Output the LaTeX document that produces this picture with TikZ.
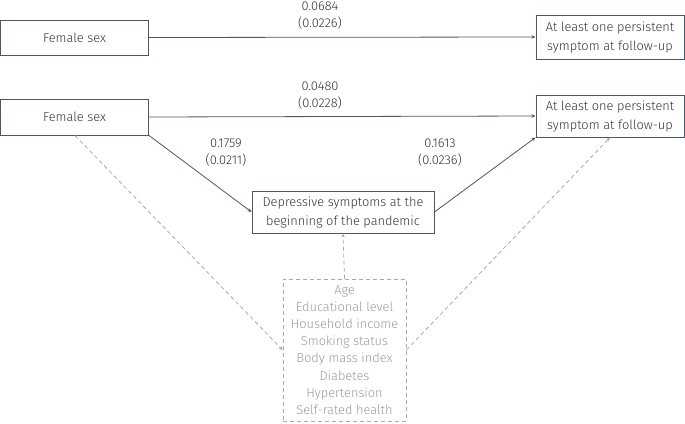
\documentclass[tikz,border=0pt]{standalone}
\usepackage{fontspec}
\setmainfont{Fira Sans}[UprightFont=* Light]
\usetikzlibrary{arrows.meta}
\definecolor{boxc}{HTML}{4A5670}
\definecolor{txt}{HTML}{333333}
\definecolor{gr}{HTML}{A8A8B0}
\definecolor{grt}{HTML}{9A9A9A}
\begin{document}
\begin{tikzpicture}[x=1pt,y=-1pt,
  every node/.style={font=\fontsize{12.8}{19}\selectfont, text=txt},
  boxn/.style={draw=boxc, line width=0.9pt, inner sep=0pt, align=center},
  lbl/.style={align=center, font=\fontsize{12.8}{17}\selectfont},
  arr/.style={draw=boxc, line width=0.8pt, -{Stealth[length=4pt,width=3.5pt]}},
  darr/.style={draw=gr, line width=0.8pt, dash pattern=on 4pt off 3pt, -{Stealth[length=4pt,width=3.5pt]}},
  cov/.style={draw=gr, line width=0.8pt, dash pattern=on 4pt off 3pt, inner sep=0pt, align=center, text=grt, font=\fontsize{12.8}{17.2}\selectfont}
]
\useasboundingbox (0,0) rectangle (685,423);
% top model
\node[boxn, minimum width=148pt, minimum height=35pt] (f1) at (74.5,37.5) {Female sex};
\node[boxn, minimum width=148pt, minimum height=44pt] (o1) at (610,37) {At least one persistent\\symptom at follow-up};
\draw[arr] (f1.east) -- (o1.west);
\node[lbl] (l1) at (320,16) {0.0684\\(0.0226)};
% mediation model
\node[boxn, minimum width=148pt, minimum height=36pt] (f2) at (74.5,117) {Female sex};
\node[boxn, minimum width=148pt, minimum height=42pt] (o2) at (610,116) {At least one persistent\\symptom at follow-up};
\node[boxn, minimum width=182pt, minimum height=42pt] (m) at (343,212) {Depressive symptoms at the\\beginning of the pandemic};
\draw[arr] (f2.east) -- (o2.west);
\node[lbl] (l2) at (320,96) {0.0480\\(0.0228)};
\draw[arr] (f2.south east) -- (m.west);
\node[lbl] (l3) at (226,153) {0.1759\\(0.0211)};
\draw[arr] (m.east) -- (o2.south west);
\node[lbl] (l4) at (440,153) {0.1613\\(0.0236)};
% covariates
\node[cov, minimum width=123pt, minimum height=142pt] (c) at (344.5,350) {Age\\Educational level\\Household income\\Smoking status\\Body mass index\\Diabetes\\Hypertension\\Self-rated health};
\coordinate (fs) at (75,135);
\draw[darr] (f2.south -| fs) -- (c.west);
\draw[darr] (c.north) -- (m.south);
\draw[darr] (c.east) -- (o2.south);
\end{tikzpicture}
\end{document}
